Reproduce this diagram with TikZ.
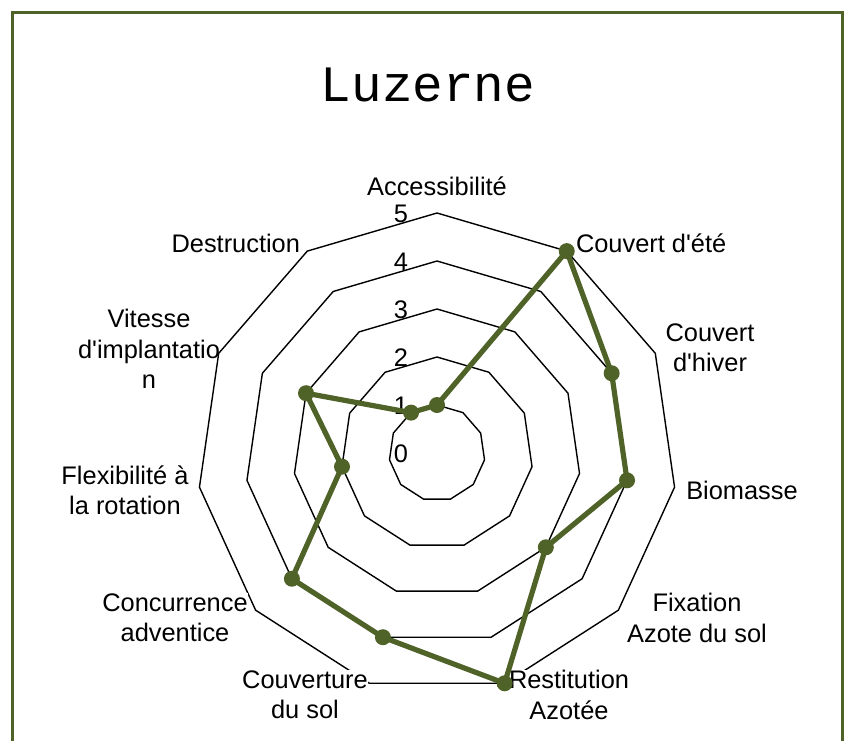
\documentclass[tikz,border=0pt]{standalone}
\usepackage{fontspec}
\setmainfont{Liberation Sans}
\newfontfamily\titlefont{Liberation Mono}
\definecolor{olive}{HTML}{4F6228}
\newcommand\apos{\textquotesingle}
\tikzset{
    ring/.style={draw=black, line width=0.7pt, line join=miter},
    axislabel/.style={align=center, fill=white, inner sep=0.3pt, font=\fontsize{12.7}{15.2}\selectfont},
    tick/.style={inner sep=0pt, font=\fontsize{12.7}{15}\selectfont},
    series/.style={draw=olive, line width=2.6pt, line join=round},
    dot/.style={fill=olive}
}
\begin{document}
\begin{tikzpicture}[x=0.5pt, y=-0.5pt]
    \useasboundingbox (0,0) rectangle (849,740);
    % frame
    \draw[olive, line width=1.1pt] (12.5,760) -- (12.5,12.5) -- (842.5,12.5) -- (842.5,760);
    \node[font=\titlefont\fontsize{25.5}{30}\selectfont] (title) at (428,85) {Luzerne};

    % rings 1..5
    \foreach \r in {1,...,5} {
        \draw[ring] (437,{453-48*\r})
            \foreach \k in {1,...,10} { -- ({437+48*\r*sin(\k*360/11)},{453-48*\r*cos(\k*360/11)}) } -- cycle;
    }
    % tick values
    \foreach \r in {0,...,5} {
        \node[tick] (t\r) at (401,{454-48*\r}) {\r};
    }

    % axis labels
    \node[axislabel] (acc) at (437,186) {Accessibilit\'e};
    \node[axislabel, anchor=west] (ete) at (575,243) {Couvert d\apos\'et\'e};
    \node[axislabel] (hiver) at (710,348) {Couvert\\d\apos hiver};
    \node[axislabel] (bio) at (742,490) {Biomasse};
    \node[axislabel] (fix) at (697,618) {Fixation\\Azote du sol};
    \node[axislabel] (rest) at (569,695) {Restitution\\Azot\'ee};
    \node[axislabel] (couv) at (305,695) {Couverture\\du sol};
    \node[axislabel] (conc) at (175,618) {Concurrence\\adventice};
    \node[axislabel] (flex) at (125,490) {Flexibilit\'e \`a\\la rotation};
    \node[axislabel, fill=none] (vit) at (149,349) {Vitesse\\d\apos implantatio\\n};
    \node[axislabel, anchor=east] (dest) at (301,243) {Destruction};

    % Luzerne scores
    \foreach \v [count=\k from 0] in {1,5,4,4,3,5,4,4,2,3,1} {
        \coordinate (p\k) at ({437+48*\v*sin(\k*360/11)},{453-48*\v*cos(\k*360/11)});
    }
    \draw[series] (p0) -- (p1) -- (p2) -- (p3) -- (p4) -- (p5) -- (p6) -- (p7) -- (p8) -- (p9) -- (p10) -- cycle;
    \foreach \k in {0,...,10} {
        \fill[dot] (p\k) circle (8);
    }
\end{tikzpicture}
\end{document}
